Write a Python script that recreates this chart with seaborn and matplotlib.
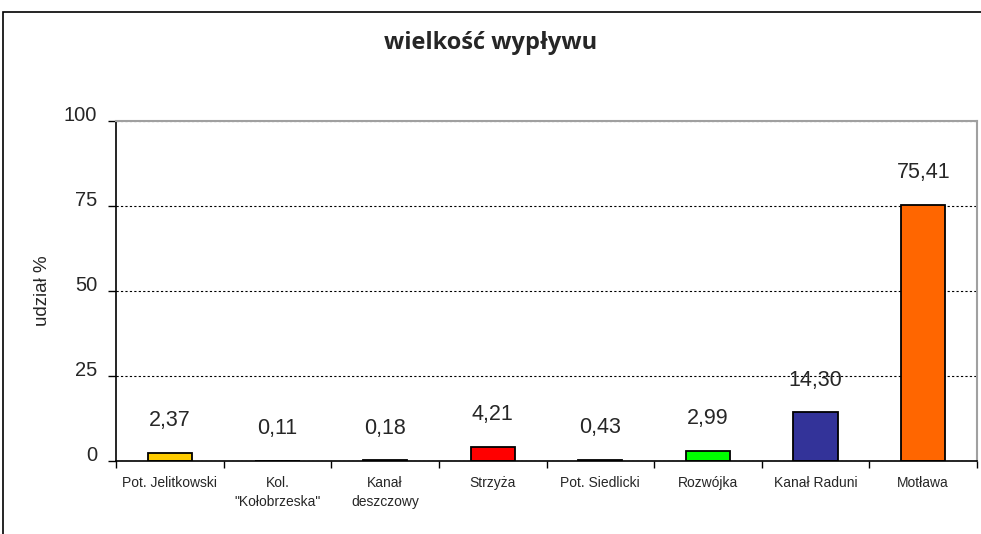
import matplotlib
matplotlib.use("Agg")
import matplotlib.pyplot as plt
import matplotlib.patches as mpatches
from matplotlib.ticker import FixedLocator
import seaborn as sns
import pandas as pd

categories = ["Pot. Jelitkowski", "Kol.\n\"Kołobrzeska\"", "Kanał\ndeszczowy", "Strzyża",
              "Pot. Siedlicki", "Rozwójka", "Kanał Raduni", "Motława"]
values = [2.37, 0.11, 0.18, 4.21, 0.43, 2.99, 14.30, 75.41]
colors = ["#FFCC00", "#99CCFF", "#808080", "#FF0000", "#000000", "#00FF00", "#333399", "#FF6600"]
yticks = [0, 25, 50, 75, 100]
title = "wielkość wypływu"
ylabel = "udział %"

sns.set_theme(style="white")
plt.rcParams["font.family"] = ["Liberation Sans", "DejaVu Sans"]

df = pd.DataFrame({"cat": categories, "val": values})

fig = plt.figure(figsize=(9.81, 5.34), dpi=100)
ax = fig.add_axes([116/981, 1-461/534, (977-116)/981, (461-121)/534])

sns.barplot(data=df, x="cat", y="val", hue="cat", palette=colors, legend=False,
            width=0.41, edgecolor="black", linewidth=1.3, ax=ax, saturation=1)

ax.set_xlim(-0.5, len(categories) - 0.5)
ax.set_ylim(0, 100)
ax.set_yticks(yticks)
ax.set_yticklabels([str(t) for t in yticks], fontsize=14.5)
plt.setp(ax.get_yticklabels(), va="baseline")
ax.yaxis.grid(True, linestyle=(0, (2, 2)), color="black", linewidth=0.8)
ax.set_axisbelow(True)

# x ticks: labels at centres, tick marks at boundaries
ax.set_xticks(range(len(categories)))
ax.set_xticklabels(categories, fontsize=10, linespacing=1.45)
ax.xaxis.set_minor_locator(FixedLocator([i - 0.5 for i in range(len(categories) + 1)]))
ax.tick_params(axis="x", which="major", length=0, pad=11)
ax.tick_params(axis="x", which="minor", length=5, width=1, color="black", bottom=True)
ax.tick_params(axis="y", which="major", length=6, width=1, color="black", left=True, pad=7.5)

for s in ["left", "bottom"]:
    ax.spines[s].set_color("black")
    ax.spines[s].set_linewidth(1.2)
for s in ["top", "right"]:
    ax.spines[s].set_color("#A0A0A0")
    ax.spines[s].set_linewidth(1.5)

ax.set_xlabel("")
ax.set_ylabel(ylabel, fontsize=13.5, labelpad=9)

for i, v in enumerate(values):
    ax.annotate(f"{v:.2f}".replace(".", ","), (i, v), xytext=(0, 23),
                textcoords="offset points", ha="center", va="center", fontsize=15.5)

fig.text(0.5, 1 - 43/534, title, ha="center", va="center", fontsize=17,
         fontweight="bold", family=["Open Sans", "DejaVu Sans"])

# chart area border
fig.patches.append(mpatches.Rectangle((3/981, -0.1), 1.2, (1 - 12/534) + 0.1,
                                      transform=fig.transFigure, fill=False,
                                      edgecolor="black", linewidth=1.2))

fig.savefig("out.png", dpi=100)
